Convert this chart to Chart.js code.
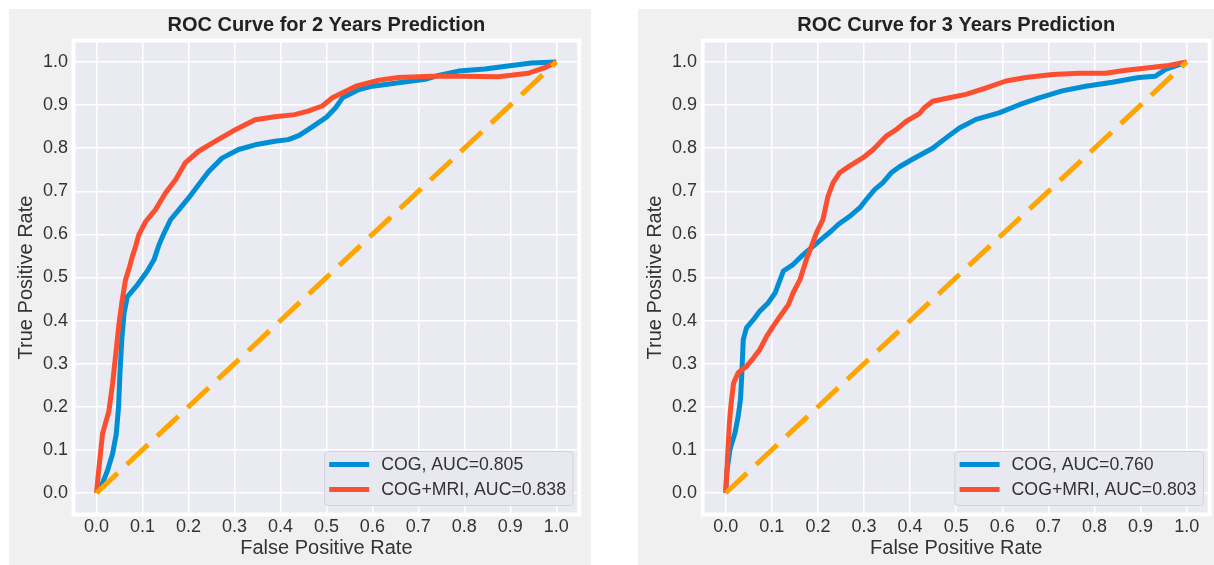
<!DOCTYPE html>
<html><head><meta charset="utf-8">
<script src="https://cdn.jsdelivr.net/npm/chart.js@4.4.1/dist/chart.umd.min.js"></script>
<style>
html,body{margin:0;padding:0;background:#ffffff;}
body{width:1214px;height:565px;position:relative;overflow:hidden;}
.panel{position:absolute;background:#f0f0f0;}
#p1{left:9px;top:9px;width:582px;height:556px;}
#p2{left:638px;top:9px;width:576px;height:556px;}
canvas{display:block;}
</style></head><body>
<div class="panel" id="p1"><canvas id="c1" width="582" height="556"></canvas></div>
<div class="panel" id="p2"><canvas id="c2" width="576" height="556"></canvas></div>
<script>
// ---- tick values / labels ----
const tickValues = [0.0, 0.1, 0.2, 0.3, 0.4, 0.5, 0.6, 0.7, 0.8, 0.9, 1.0];
const tickLabels = ['0.0','0.1','0.2','0.3','0.4','0.5','0.6','0.7','0.8','0.9','1.0'];
const chartTitles = ['ROC Curve for 2 Years Prediction', 'ROC Curve for 3 Years Prediction'];
const seriesLabels2 = ['COG, AUC=0.805', 'COG+MRI, AUC=0.838'];
const seriesLabels3 = ['COG, AUC=0.760', 'COG+MRI, AUC=0.803'];
const xTitle = 'False Positive Rate';
const yTitle = 'True Positive Rate';

// ---- diagonal (chance) ----
const diagX = [0, 1];
const diagY = [0, 1];

// ---- 2 years, COG ----
const fpr2Cog = [0,0.012,0.024,0.035,0.043,0.048,0.051,0.055,0.06,0.067,0.089,0.11,0.125,0.136,0.147,0.161,0.179,0.2,0.222,0.244,0.273,0.309,0.345,0.388,0.417,0.441,0.47,0.5,0.52,0.535,0.571,0.6,0.657,0.715,0.744,0.787,0.845,0.903,0.946,1.0];
const tpr2Cog = [0,0.02,0.052,0.091,0.137,0.2,0.277,0.355,0.417,0.455,0.483,0.514,0.541,0.576,0.603,0.634,0.657,0.684,0.715,0.746,0.777,0.797,0.808,0.816,0.82,0.83,0.85,0.872,0.894,0.917,0.936,0.944,0.952,0.96,0.969,0.979,0.984,0.992,0.998,1.0];
// ---- 2 years, COG+MRI ----
const fpr2Mri = [0,0.004,0.013,0.027,0.035,0.042,0.049,0.056,0.063,0.072,0.078,0.085,0.092,0.107,0.128,0.15,0.172,0.193,0.222,0.258,0.302,0.345,0.388,0.431,0.46,0.491,0.513,0.564,0.614,0.657,0.729,0.8,0.874,0.939,0.975,1.0];
const tpr2Mri = [0,0.044,0.137,0.19,0.254,0.323,0.393,0.448,0.494,0.525,0.549,0.572,0.599,0.63,0.657,0.696,0.727,0.766,0.793,0.816,0.843,0.866,0.873,0.878,0.886,0.898,0.917,0.944,0.958,0.964,0.967,0.967,0.966,0.974,0.987,1.0];
// ---- 3 years, COG ----
const fpr3Cog = [0,0.002,0.009,0.02,0.027,0.032,0.035,0.038,0.045,0.06,0.074,0.092,0.107,0.118,0.125,0.146,0.165,0.19,0.211,0.229,0.244,0.269,0.291,0.305,0.323,0.341,0.359,0.377,0.406,0.449,0.478,0.507,0.543,0.593,0.637,0.68,0.73,0.781,0.839,0.896,0.932,0.954,1.0];
const tpr3Cog = [0,0.046,0.1,0.139,0.178,0.217,0.279,0.356,0.383,0.402,0.422,0.441,0.464,0.495,0.515,0.53,0.55,0.573,0.592,0.608,0.623,0.642,0.662,0.681,0.704,0.72,0.743,0.757,0.775,0.8,0.824,0.847,0.867,0.882,0.901,0.917,0.933,0.944,0.953,0.964,0.967,0.983,1.0];
// ---- 3 years, COG+MRI ----
const fpr3Mri = [0,0.004,0.008,0.011,0.017,0.027,0.045,0.06,0.074,0.089,0.103,0.118,0.136,0.146,0.161,0.175,0.186,0.197,0.211,0.222,0.233,0.247,0.269,0.298,0.32,0.348,0.37,0.392,0.42,0.431,0.449,0.485,0.521,0.565,0.608,0.651,0.709,0.767,0.824,0.868,0.918,0.961,1.0];
const tpr3Mri = [0,0.085,0.163,0.201,0.255,0.279,0.294,0.313,0.333,0.364,0.387,0.41,0.437,0.464,0.495,0.542,0.573,0.604,0.635,0.689,0.72,0.743,0.759,0.778,0.797,0.828,0.843,0.863,0.88,0.894,0.909,0.917,0.925,0.94,0.956,0.964,0.971,0.974,0.974,0.981,0.987,0.992,1.0];

const COLOR_COG = '#008FD5';
const COLOR_MRI = '#FC4F30';
const COLOR_DIAG = '#FFA500';
const FONT = "'Liberation Sans', Arial, Helvetica, sans-serif";
Chart.defaults.font.family = FONT;

function pts(xs, ys) { return xs.map((x, i) => ({ x: x, y: ys[i] })); }

const framePlugin = {
  id: 'frame',
  beforeDraw(chart) {
    const a = chart.chartArea, ctx = chart.ctx;
    ctx.save();
    ctx.fillStyle = '#EAEAF2';
    ctx.fillRect(a.left, a.top, a.right - a.left, a.bottom - a.top);
    ctx.restore();
  },
  beforeDatasetsDraw(chart) {
    const a = chart.chartArea, ctx = chart.ctx;
    ctx.save();
    ctx.strokeStyle = '#ffffff';
    ctx.lineWidth = 4;
    ctx.strokeRect(a.left, a.top, a.right - a.left, a.bottom - a.top);
    ctx.restore();
  }
};

const legendPlugin = {
  id: 'innerLegend',
  afterDatasetsDraw(chart) {
    const a = chart.chartArea, ctx = chart.ctx;
    const items = chart.data.datasets.filter(d => d.label);
    ctx.save();
    ctx.font = '17.7px ' + FONT;
    let tw = 0;
    items.forEach(d => { tw = Math.max(tw, ctx.measureText(d.label).width); });
    const w = 56.7 + tw + 7, h = 54;
    const right = a.right - 6.3, bottom = a.bottom - 9;
    const left = right - w, top = bottom - h;
    ctx.beginPath();
    if (ctx.roundRect) ctx.roundRect(left, top, w, h, 3); else ctx.rect(left, top, w, h);
    ctx.fillStyle = '#E8E8F0';
    ctx.fill();
    ctx.strokeStyle = '#D3D3DB';
    ctx.lineWidth = 1;
    ctx.stroke();
    items.forEach((d, i) => {
      const y = top + 13 + i * 25;
      ctx.beginPath();
      ctx.strokeStyle = d.borderColor;
      ctx.lineWidth = 5;
      ctx.lineCap = 'butt';
      ctx.moveTo(left + 4.7, y);
      ctx.lineTo(left + 44.7, y);
      ctx.stroke();
      ctx.fillStyle = '#333333';
      ctx.textBaseline = 'middle';
      ctx.textAlign = 'left';
      ctx.fillText(d.label, left + 56.7, y + 0.5);
    });
    ctx.restore();
  }
};

function makeChart(id, title, cx, cy, mx, my, labels, geom) {
  const axisCommon = {
    type: 'linear', min: -0.05, max: 1.05,
    afterBuildTicks: s => { s.ticks = tickValues.map(v => ({ value: v })); },
    grid: { color: '#ffffff', lineWidth: 1.5, drawTicks: false },
    border: { display: false }
  };
  return new Chart(document.getElementById(id), {
    type: 'scatter',
    data: {
      datasets: [
        { label: labels[0], data: pts(cx, cy), showLine: true, borderColor: COLOR_COG, backgroundColor: COLOR_COG,
          borderWidth: 5, pointRadius: 0, tension: 0, borderJoinStyle: 'round', borderCapStyle: 'butt', order: 3 },
        { label: labels[1], data: pts(mx, my), showLine: true, borderColor: COLOR_MRI, backgroundColor: COLOR_MRI,
          borderWidth: 5, pointRadius: 0, tension: 0, borderJoinStyle: 'round', borderCapStyle: 'butt', order: 2 },
        { label: '', data: pts(diagX, diagY), showLine: true, borderColor: COLOR_DIAG, backgroundColor: COLOR_DIAG,
          borderWidth: 5, borderDash: [29, 12.6], pointRadius: 0, tension: 0, borderCapStyle: 'butt', order: 1 }
      ]
    },
    options: {
      responsive: false, animation: false, events: [],
      layout: { padding: { left: 0, right: geom.rp, top: 0, bottom: 0 } },
      plugins: {
        legend: { display: false },
        tooltip: { enabled: false },
        title: { display: true, text: title, fullSize: false, color: '#222222',
          font: { size: 20, weight: 'bold', lineHeight: 1 }, padding: { top: 6.7, bottom: 4.8 } }
      },
      scales: {
        x: Object.assign({}, axisCommon, {
          position: 'bottom',
          ticks: { callback: (v, i) => tickLabels[i], color: '#333333', font: { size: 18, lineHeight: 1 },
            padding: 3.5, maxRotation: 0, autoSkip: false },
          title: { display: true, text: xTitle, color: '#333333', font: { size: 20, lineHeight: 1 },
            padding: { top: 0, bottom: 7 } },
          afterFit: s => { s.height = 50.5; }
        }),
        y: Object.assign({}, axisCommon, {
          position: 'left',
          ticks: { callback: (v, i) => tickLabels[i], color: '#333333', font: { size: 18, lineHeight: 1 },
            padding: geom.tp, autoSkip: false },
          title: { display: true, text: yTitle, color: '#333333', font: { size: 20, lineHeight: 1 },
            padding: { top: 7, bottom: 0 } },
          afterFit: s => { s.width = geom.yw; }
        })
      }
    },
    plugins: [framePlugin, legendPlugin]
  });
}

makeChart('c1', chartTitles[0], fpr2Cog, tpr2Cog, fpr2Mri, tpr2Mri, seriesLabels2, { yw: 64.5, rp: 11.7, tp: 5.5 });
makeChart('c2', chartTitles[1], fpr3Cog, tpr3Cog, fpr3Mri, tpr3Mri, seriesLabels3, { yw: 64.7, rp: 4.3, tp: 5.7 });
</script>
</body></html>
